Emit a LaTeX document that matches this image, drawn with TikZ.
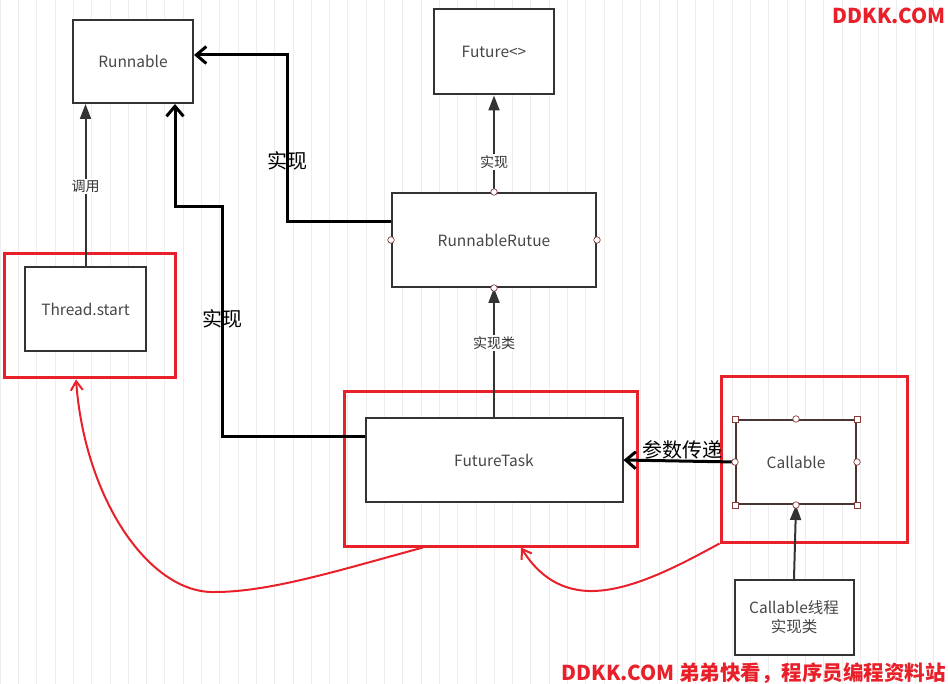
\documentclass[tikz,border=0pt]{standalone}
\usepackage{fontspec}
\setmainfont{Noto Sans CJK SC}
\usetikzlibrary{arrows.meta}
\definecolor{boxgray}{HTML}{333333}
\definecolor{markred}{HTML}{E8202A}
\definecolor{handle}{HTML}{8B3A3A}
\definecolor{callborder}{HTML}{4A3434}
\begin{document}
\begin{tikzpicture}[x=1pt,y=-1pt,
    box/.style={draw=boxgray,line width=2pt,fill=white,text=boxgray!90,
        font=\fontsize{15.5}{19}\selectfont,align=center,inner sep=0pt},
    redbox/.style={draw=markred,line width=3pt,inner sep=0pt},
    uses/.style={draw=boxgray,line width=2pt,-{Triangle[length=15pt,width=11pt]}},
    implline/.style={draw=black,line width=3pt,-{Straight Barb[length=10pt,width=17pt]}},
    redline/.style={draw=markred,line width=2pt,-{Straight Barb[length=9pt,width=12pt]}},
    lbl/.style={fill=white,text=boxgray,font=\fontsize{14}{16}\selectfont,inner sep=1.5pt},
    biglbl/.style={font=\fontsize{20}{22}\selectfont,inner sep=0pt},
    wm/.style={text=markred,font=\fontsize{20.5}{22}\selectfont\bfseries,inner sep=0pt},
    hdl/.style={draw=handle,fill=white,line width=0.7pt,circle,inner sep=0pt,minimum size=6.5pt},
    hsq/.style={draw=handle,fill=white,line width=0.7pt,inner sep=0pt,minimum size=6pt}]
    \useasboundingbox (0,0) rectangle (948,684);
    % background grid
    \draw[gray!14,line width=0.6pt] (0,0) grid[step=18.3] (948,684);
    % red marks
    \node[redbox,minimum width=171pt,minimum height=124pt] (redthread) at (89.5,316) {};
    \node[redbox,minimum width=293pt,minimum height=154pt] (redtask) at (490.5,469) {};
    \node[redbox,minimum width=186pt,minimum height=165pt] (redcall) at (814,459.5) {};
    % classes
    \node[box,minimum width=120pt,minimum height=83pt] (runnable) at (133,61.5) {Runnable};
    \node[box,minimum width=120pt,minimum height=85pt] (future) at (494,52) {Future<>};
    \node[box,minimum width=204pt,minimum height=94pt] (rrutue) at (494,240) {RunnableRutue};
    \node[box,minimum width=121pt,minimum height=84pt] (thread) at (85.5,309) {Thread.start};
    \node[box,minimum width=257pt,minimum height=84pt] (futuretask) at (494,460) {FutureTask};
    \node[box,draw=callborder,minimum width=120pt,minimum height=84pt] (callable) at (796,462) {Callable};
    \node[box,minimum width=119pt,minimum height=75pt] (impl) at (794,617.5) {Callable线程\\实现类};
    % grey arrows
    \draw[uses] (thread.north) -- (thread.north |- runnable.south)
        node[lbl,pos=0.49] (callthread) {调用};
    \draw[uses] (rrutue.north) -- (future.south)
        node[lbl,pos=0.31] (implfuture) {实现};
    \draw[uses] (futuretask.north) -- (rrutue.south)
        node[lbl,pos=0.57] (implclass) {实现类};
    \draw[uses] (impl.north) -- (callable.south);
    % black arrows
    \draw[implline] ([yshift=18pt]rrutue.west) -| (287,55) -- ([yshift=6.5pt]runnable.east);
    \node[biglbl] (implrr) at (287,161) {实现};
    \draw[implline] ([yshift=23pt]futuretask.west) -| (222,207) -| ([xshift=42pt]runnable.south);
    \node[biglbl] (impltask) at (222,319) {实现};
    \draw[implline] (callable.west) -- (futuretask.east);
    \node[biglbl] (param) at (682,450) {参数传递};
    % red curves
    \coordinate (low1) at (215,592);
    \coordinate (low2) at (589,591);
    \draw[redline] ([xshift=-67.5pt]redtask.south) .. controls (340,570) and (270,592) .. (low1)
        .. controls (150,594) and (85,500) .. ([xshift=-13.5pt]redthread.south);
    \draw[redline] (redcall.south west) .. controls (680,565) and (630,592) .. (low2)
        .. controls (555,590) and (535,570) .. ([xshift=30.5pt]redtask.south);
    % handles
    \foreach \a in {north,south,east,west}
        \node[hdl] (rr-\a) at (rrutue.\a) {};
    \foreach \a in {north,south,east,west}
        \node[hdl] (cl-\a) at (callable.\a) {};
    \foreach \a in {north east,south east,south west,north west}
        \node[hsq] (cl-\a) at (callable.\a) {};
    % watermarks
    \node[wm,anchor=east] (wmtop) at (946,16) {DDKK.COM};
    \node[wm,anchor=east] (wmbottom) at (946,673) {DDKK.COM 弟弟快看，程序员编程资料站};
\end{tikzpicture}
\end{document}
